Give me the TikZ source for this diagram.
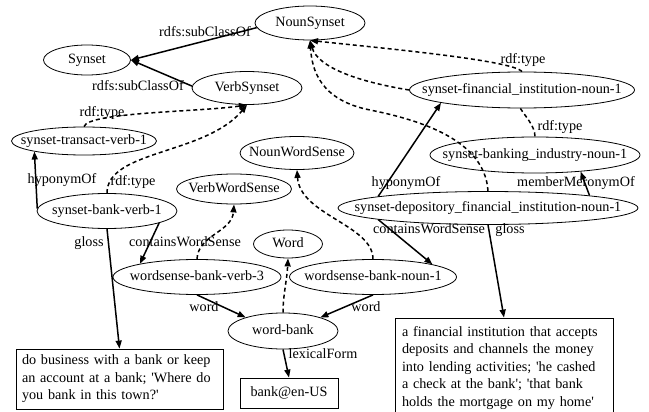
\documentclass[tikz,border=0pt]{standalone}
\usepackage{fontspec}
\setmainfont{Liberation Serif}
\usepackage{tikz}
\usetikzlibrary{shapes.geometric,arrows.meta}

\tikzset{
    res/.style={ellipse, draw, line width=0.8pt, inner sep=0pt, text height=10pt, text depth=3pt},
    litbox/.style={rectangle, draw, line width=0.8pt, align=left},
    lab/.style={inner sep=0pt, text height=10pt, text depth=3pt},
    rel/.style={line width=1.5pt, -{Triangle[length=8pt,width=6pt]}},
    typ/.style={rel, dash pattern=on 4pt off 3pt}
}
\newcommand{\ctr}[1]{\makebox[0pt]{#1}}

\begin{document}
\begin{tikzpicture}[x=1pt, y=-1pt, font=\fontsize{14.2}{17.5}\selectfont]
    \useasboundingbox (0,0) rectangle (649,412);
    \clip (0,0) rectangle (649,412);

    % Classes
    \node[res, minimum width=110, minimum height=34] (ns) at (310,23) {\ctr{NounSynset}};
    \node[res, minimum width=87, minimum height=30] (syn) at (87,60) {\ctr{Synset}};
    \node[res, minimum width=110, minimum height=33] (vs) at (247,88) {\ctr{VerbSynset}};
    \node[res, minimum width=114, minimum height=33] (nws) at (297,153) {\ctr{NounWordSense}};
    \node[res, minimum width=115, minimum height=30] (vws) at (234,189) {\ctr{VerbWordSense}};
    \node[res, minimum width=69, minimum height=28] (wrd) at (288,244) {\ctr{Word}};

    % Synsets
    \node[res, minimum width=145, minimum height=28] (trv) at (84,141) {\ctr{synset-transact-verb-1}};
    \node[res, minimum width=140, minimum height=35] (bv) at (107,211) {\ctr{synset-bank-verb-1}};
    \node[res, minimum width=225, minimum height=36] (fin) at (522,90) {\ctr{synset-financial\_institution-noun-1}};
    \node[res, minimum width=210, minimum height=36] (bnk) at (535,155) {\ctr{synset-banking\_industry-noun-1}};
    \node[res, minimum width=300, minimum height=33] (dep) at (488,208) {\ctr{synset-depository\_financial\_institution-noun-1}};

    % Word senses and word
    \node[res, minimum width=168, minimum height=35] (wsv) at (197,277) {\ctr{wordsense-bank-verb-3}};
    \node[res, minimum width=167, minimum height=35] (wsn) at (373,277) {\ctr{wordsense-bank-noun-1}};
    \node[res, minimum width=110, minimum height=36] (wb) at (283,331) {\ctr{word-bank}};

    % Literals
    \node[litbox, text width=195pt, inner xsep=6pt, minimum height=60] (gv) at (119.5,379)
        {do business with a bank or keep\\an account at a bank; \textquotesingle Where do\\you bank in this town?\textquotesingle};
    \node[litbox, minimum width=98, minimum height=30, align=center] (lf) at (289,393) {bank@en-US};
    \node[litbox, text width=204pt, inner xsep=7pt, minimum height=100] (gn) at (504,368)
        {a financial institution that accepts\\deposits and channels the money\\into lending activities; \textquotesingle he cashed\\a check at the bank\textquotesingle; \textquotesingle that bank\\holds the mortgage on my home\textquotesingle};

    % Subclass links
    \draw[rel] (ns.185) -- (syn.east);
    \draw[rel] (vs.178) -- (syn.east);

    % Type links
    \draw[typ] (trv.north) .. controls (88,112) and (200,112) .. (vs.south);
    \draw[typ] (bv.north) .. controls (107,150) and (205,155) .. (vs.south);
    \draw[typ] (fin.north) .. controls (512,60) and (380,48) .. (ns.south);
    \draw[typ] (fin.west) .. controls (360,82) and (318,68) .. (ns.south);
    \draw[typ] (dep.north) .. controls (485,140) and (420,120) .. (370,110) .. controls (320,100) and (312,70) .. (ns.south);
    \draw[typ, -] (fin.-95) .. controls (525,116) and (535,126) .. (bnk.north);
    \draw[typ] (wsv.north) .. controls (198,235) and (232,232) .. (vws.south);
    \draw[typ] (wsn.north) .. controls (373,225) and (300,215) .. (nws.south);
    \draw[typ] (wb.north) .. controls (283,295) and (287,280) .. (wrd.south);

    % Verb synset links
    \draw[rel] (bv.178) -- (trv.192);
    \draw[rel] (bv.south) -- (gv.north);
    \draw[rel] (bv.-13) -- (wsv.167);

    % Noun synset links
    \draw[rel] (dep.174) -- (fin.189);
    \draw[rel] (dep.7) -- (bnk.-20);
    \draw[rel] (dep.186) -- (wsn.12);
    \draw[rel] (dep.south) -- (gn.north);

    % Word links
    \draw[rel] (wsv.south) -- (wb.160);
    \draw[rel] (wsn.south) -- (wb.20);
    \draw[rel] (wb.south) -- (lf.north);

    % Edge labels
    \node[lab] (sc1) at (205,33) {rdfs:subClassOf};
    \node[lab] (sc2) at (138,87) {rdfs:subClassOf};
    \node[lab] (ty1) at (102,113) {rdf:type};
    \node[lab] (ty2) at (133,182) {rdf:type};
    \node[lab] (ty3) at (523,60) {rdf:type};
    \node[lab] (ty4) at (560,127) {rdf:type};
    \node[lab] (hy1) at (62,180) {hyponymOf};
    \node[lab] (hy2) at (406,183) {hyponymOf};
    \node[lab] (mm) at (576,183) {memberMeronymOf};
    \node[lab] (gl1) at (89,243) {gloss};
    \node[lab] (gl2) at (510,230) {gloss};
    \node[lab] (cw1) at (185,243) {containsWordSense};
    \node[lab] (cw2) at (429,230) {containsWordSense};
    \node[lab] (wd1) at (204,308) {word};
    \node[lab] (wd2) at (366,308) {word};
    \node[lab] (lx) at (323,355) {lexicalForm};
\end{tikzpicture}
\end{document}
